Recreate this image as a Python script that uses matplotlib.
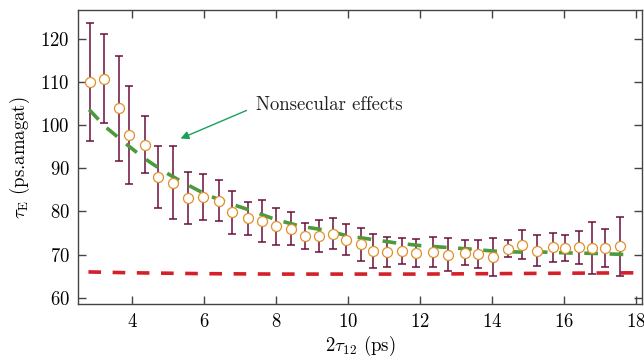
import matplotlib
matplotlib.use("Agg")
import matplotlib.pyplot as plt

plt.rcParams['font.family'] = 'serif'
plt.rcParams['font.serif'] = ['cmr10']
plt.rcParams['mathtext.fontset'] = 'cm'
plt.rcParams['axes.unicode_minus'] = False
plt.rcParams['axes.formatter.use_mathtext'] = True

# measured data
x_data = [2.84, 3.21, 3.64, 3.93, 4.36, 4.72, 5.15, 5.55, 5.98, 6.42,
          6.78, 7.22, 7.62, 8.01, 8.41, 8.81, 9.19, 9.59, 9.96, 10.37,
          10.71, 11.08, 11.50, 11.90, 12.36, 12.79, 13.25, 13.62, 14.03, 14.45,
          14.83, 15.26, 15.69, 16.03, 16.41, 16.79, 17.15, 17.56]
y_data = [110.0, 110.8, 103.9, 97.7, 95.5, 88.0, 86.7, 83.1, 83.4, 82.5,
          79.8, 78.4, 77.8, 76.6, 76.0, 74.3, 74.3, 74.9, 73.5, 72.4,
          70.9, 70.6, 70.9, 70.4, 70.6, 70.0, 70.5, 70.1, 69.4, 71.4,
          72.3, 70.9, 71.7, 71.5, 71.7, 71.5, 71.6, 71.9]
y_err = [13.75, 10.4, 12.2, 11.35, 6.65, 7.25, 8.55, 6.0, 5.3, 4.7,
         4.9, 3.75, 4.8, 4.25, 3.85, 3.05, 3.75, 3.55, 3.5, 3.8,
         3.9, 3.5, 2.95, 3.15, 3.55, 3.75, 2.85, 3.25, 4.35, 2.0,
         3.4, 3.55, 3.35, 3.05, 3.75, 6.05, 4.45, 6.75]

# nonsecular model (green dashed)
x_ns = [2.81, 3.25, 3.77, 4.31, 4.88, 5.47, 6.09, 6.70, 7.35, 8.00,
        8.68, 9.35, 10.01, 10.70, 11.35, 12.01, 12.69, 13.40, 14.08, 14.77,
        15.43, 16.13, 16.80, 17.50, 17.83]
y_ns = [103.6, 99.7, 96.1, 92.5, 89.3, 86.5, 83.8, 81.9, 80.1, 78.1,
        76.6, 75.7, 74.3, 73.5, 72.7, 72.1, 71.7, 71.3, 70.8, 70.6,
        70.6, 70.4, 70.3, 70.1, 70.0]

# secular model (red dashed)
x_sec = [2.79, 4.0, 6.0, 8.0, 10.0, 12.0, 14.0, 16.0, 18.06]
y_sec = [66.0, 65.8, 65.6, 65.5, 65.5, 65.5, 65.6, 65.7, 65.8]

annot_text = "Nonsecular effects"

fig = plt.figure(figsize=(6.44, 3.56), dpi=100)
ax = fig.add_axes([0.1211, 0.1452, 0.9969 - 0.1211, 0.971 - 0.1452])

ax.plot(x_sec, y_sec, color='#d42028', lw=2.6, dashes=(3.5, 3.2), zorder=2)
ax.errorbar(x_data, y_data, yerr=y_err, fmt='none', ecolor='#6a0f3c',
            elinewidth=1.1, capsize=2.6, capthick=1.1, zorder=3)
ax.plot(x_ns, y_ns, color='#4c9a3c', lw=2.6, dashes=(3.8, 3.2), zorder=4)
ax.plot(x_data, y_data, 'o', ms=7.2, mfc='white', mec='#e0902a', mew=0.9,
        zorder=5, ls='none')

ax.annotate('', xy=(5.35, 96.9), xytext=(7.18, 103.4),
            arrowprops=dict(arrowstyle='-|>', color='#18a058', lw=1.0,
                            mutation_scale=12, shrinkA=0, shrinkB=0))
ax.text(7.44, 104.7, annot_text, fontsize=13.5, va='center', ha='left',
        color='#222222')

ax.set_xlim(2.5, 18.17)
ax.set_ylim(58.5, 126.6)
ax.set_xticks([4, 6, 8, 10, 12, 14, 16, 18])
ax.set_yticks([60, 70, 80, 90, 100, 110, 120])
ax.tick_params(direction='in', length=6, width=1, top=True, right=True,
               labelsize=13.5, color='#444444', pad=6)
for s in ax.spines.values():
    s.set_color('#444444')
    s.set_linewidth(1.0)

ax.set_xlabel(r'$2\tau_{12}$ (ps)', fontsize=13.5, labelpad=2)
ax.set_ylabel(r'$\tau_{\rm E}$ (ps.amagat)', fontsize=13.5, labelpad=6)

fig.savefig('out.png', dpi=100)
